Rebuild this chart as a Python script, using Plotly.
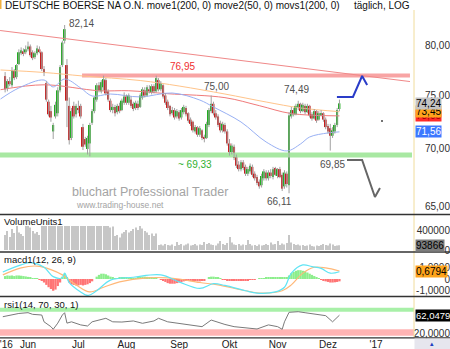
import math
import plotly.graph_objects as go

W, H = 450, 349
FONT = "Liberation Sans"

# ---------------- data (trading-day index, 0 = 1 Jun 2016) ----------------
day = list(range(-10, 137))

opens = [76.9, 75.7, 76.4, 76.0, 77.4, 76.8, 78.1, 79.2, 79.4, 79.3,
         79.6, 79.9, 79.3, 78.8, 79.2, 79.6, 79.3, 77.6, 76.2, 74.4,
         73.5, 71.6, 73.0, 73.3, 75.5, 78.0, 80.5, 78.0, 74.0, 71.0,
         74.0, 73.2, 73.8, 74.0, 72.0, 70.9, 70.0, 70.5, 72.4, 73.5,
         74.6, 76.0, 75.4, 75.8, 76.5, 75.4, 74.5, 73.6, 73.9, 73.4,
         74.0, 73.6, 74.3, 74.9, 74.3, 74.6, 74.2, 73.8, 74.2, 73.9,
         74.8, 75.5, 75.0, 75.6, 75.3, 75.9, 75.4, 76.5, 75.6, 76.0,
         75.0, 74.4, 74.0, 73.3, 73.6, 73.0, 73.4, 72.9, 73.4, 73.8,
         73.3, 72.7, 72.5, 71.6, 72.0, 71.3, 71.7, 71.1, 71.0, 72.2,
         73.5, 74.2, 73.3, 73.0, 72.4, 71.7, 72.2, 71.6, 70.5, 69.7,
         70.2, 69.3, 68.6, 68.2, 68.8, 68.4, 67.8, 68.0, 68.4, 67.8,
         67.5, 67.1, 66.8, 67.4, 67.9, 67.4, 67.9, 67.5, 68.3, 67.6,
         68.2, 67.7, 66.7, 67.8, 66.8, 73.0, 73.6, 73.2, 73.8, 74.2,
         73.5, 74.0, 73.4, 74.0, 73.2, 72.8, 73.5, 72.7, 73.2, 73.3,
         72.7, 72.1, 71.9, 71.2, 71.6, 72.2, 73.7]
highs = [77.3, 76.6, 76.8, 77.8, 77.6, 78.1, 79.6, 79.8, 79.7, 80.0,
         80.4, 80.1, 79.5, 79.4, 80.0, 79.9, 79.4, 77.9, 76.4, 74.6,
         74.0, 72.4, 74.4, 75.8, 78.0, 80.5, 82.14, 78.6, 74.8, 73.8,
         74.4, 74.2, 74.5, 74.2, 72.3, 71.1, 71.2, 72.4, 73.7, 74.9,
         76.2, 76.3, 76.5, 76.95, 76.7, 75.6, 74.7, 74.2, 74.1, 74.2,
         74.3, 74.7, 75.3, 75.1, 75.2, 74.9, 74.4, 74.5, 74.5, 75.2,
         75.8, 75.8, 76.0, 76.0, 76.1, 76.1, 76.95, 76.7, 76.4, 76.1,
         75.2, 74.6, 74.1, 73.9, 73.8, 73.7, 73.6, 73.8, 74.1, 74.0,
         73.4, 72.9, 72.6, 72.2, 72.1, 72.1, 71.8, 71.3, 72.5, 73.8,
         75.0, 74.4, 73.6, 73.2, 72.6, 72.5, 72.4, 71.8, 70.9, 70.5,
         70.4, 69.5, 68.9, 69.0, 69.0, 68.6, 68.4, 68.7, 68.6, 68.0,
         67.7, 67.3, 67.8, 68.2, 68.1, 68.1, 68.2, 68.4, 68.4, 68.3,
         68.4, 67.9, 68.1, 68.0, 73.4, 73.9, 73.8, 74.2, 74.49, 74.3,
         74.3, 74.2, 74.2, 74.1, 73.4, 73.7, 73.6, 73.5, 73.6, 73.4,
         72.9, 72.3, 72.3, 72.0, 72.4, 73.8, 74.6]
lows = [75.3, 75.4, 75.9, 75.8, 76.5, 76.6, 78.0, 79.0, 78.9, 79.1,
        79.4, 78.8, 78.5, 78.6, 79.0, 79.2, 77.4, 76.9, 74.4, 73.0,
        72.5, 70.9, 72.8, 73.0, 75.3, 77.8, 80.2, 72.0, 70.4, 70.8,
        72.8, 72.9, 73.3, 72.8, 69.9, 70.2, 69.5, 69.33, 72.2, 73.3,
        74.4, 75.3, 75.2, 75.5, 75.0, 74.4, 73.4, 73.3, 73.0, 73.2,
        73.3, 73.5, 74.1, 74.1, 74.1, 73.8, 73.5, 73.6, 73.6, 73.8,
        74.6, 74.8, 74.9, 75.2, 75.1, 75.2, 75.3, 75.4, 75.4, 74.7,
        74.1, 73.6, 73.0, 73.1, 72.7, 72.8, 72.6, 72.7, 73.2, 73.0,
        72.4, 72.1, 71.5, 71.4, 71.1, 71.1, 70.8, 70.6, 70.9, 72.0,
        73.3, 73.1, 72.7, 72.0, 71.5, 71.5, 71.4, 70.3, 69.4, 69.5,
        69.0, 68.3, 68.0, 68.0, 68.1, 67.6, 67.6, 67.8, 67.5, 67.2,
        66.8, 66.5, 66.6, 67.2, 67.2, 67.2, 67.4, 67.3, 67.6, 67.4,
        67.4, 66.3, 66.5, 66.6, 66.11, 72.8, 73.0, 73.1, 73.6, 73.3,
        73.4, 73.2, 73.3, 72.9, 72.6, 72.7, 72.4, 72.6, 73.0, 72.5,
        71.8, 71.4, 69.85, 71.0, 71.4, 72.0, 73.5]
closes = [75.6, 76.4, 76.1, 77.5, 76.7, 78.0, 79.3, 79.5, 79.2, 79.6,
          79.9, 79.0, 78.7, 79.2, 79.7, 79.4, 77.6, 77.3, 74.6, 73.2,
          72.9, 72.2, 74.1, 75.5, 77.8, 80.3, 81.7, 74.5, 70.8, 73.5,
          73.0, 74.0, 73.6, 73.0, 70.2, 70.4, 71.0, 72.2, 73.5, 74.8,
          76.0, 75.5, 76.3, 76.6, 75.2, 74.6, 73.6, 73.9, 73.3, 74.0,
          73.5, 74.5, 74.9, 74.3, 75.0, 74.0, 73.7, 74.3, 73.8, 75.0,
          75.6, 75.0, 75.8, 75.4, 75.9, 75.4, 76.7, 75.6, 76.2, 74.9,
          74.3, 73.8, 73.2, 73.6, 72.9, 73.5, 72.8, 73.6, 73.9, 73.2,
          72.6, 72.3, 71.7, 72.0, 71.3, 71.9, 71.0, 70.9, 72.3, 73.6,
          74.2, 73.3, 72.9, 72.2, 71.7, 72.3, 71.6, 70.5, 69.7, 70.3,
          69.2, 68.5, 68.2, 68.8, 68.3, 67.8, 68.2, 68.5, 67.7, 67.4,
          67.0, 66.7, 67.6, 68.0, 67.4, 67.9, 67.6, 68.2, 67.7, 68.2,
          67.5, 66.5, 67.9, 66.9, 73.1, 73.6, 73.2, 74.0, 74.2, 73.5,
          74.1, 73.4, 74.0, 73.1, 72.8, 73.5, 72.6, 73.3, 73.3, 72.7,
          72.0, 71.6, 71.2, 71.7, 72.2, 73.6, 74.24]

volume_k = [300, 380, 260, 420, 340, 520, 350, 320, 280, 500,
            520, 450, 380, 330, 360, 300, 520, 500, 540, 510,
            560, 600, 520, 540, 580, 620, 700, 900, 800, 650,
            560, 520, 500, 540, 600, 520, 500, 560, 500, 520,
            520, 500, 480, 520, 500, 500, 450, 470, 280, 300,
            250, 330, 360, 400, 350, 380, 420, 450, 400, 500,
            430, 380, 350, 300, 330, 280, 330, 100, 110, 90,
            120, 100, 90, 110, 80, 160, 100, 120, 90, 110,
            130, 90, 100, 120, 90, 110, 100, 160, 120, 140,
            110, 100, 90, 130, 180, 120, 100, 140, 260, 150,
            110, 100, 120, 90, 110, 100, 200, 120, 90, 100,
            80, 110, 90, 100, 120, 100, 150, 110, 120, 180,
            100, 130, 110, 140, 300, 150, 120, 100, 110, 90,
            100, 80, 90, 110, 80, 70, 90, 80, 100, 120,
            100, 90, 130, 110, 80, 90, 93.866]

macd_hist = [0.25, 0.3, 0.28, 0.3, 0.25, 0.3, 0.3, 0.28, 0.25, 0.22,
             0.18, 0.12, 0.08, 0.05, 0.02, -0.02, -0.15, -0.3, -0.5, -0.7,
             -0.85, -1.0, -0.9, -0.6, -0.3, 0.2, 0.45, 0.1, -0.3, -0.45,
             -0.5, -0.55, -0.55, -0.5, -0.55, -0.5, -0.45, -0.35, -0.2, 0.0,
             0.2, 0.35, 0.45, 0.45, 0.4, 0.3, 0.2, 0.1, 0.05, 0.05,
             0.1, 0.15, 0.15, 0.1, 0.05, 0.02, 0.05, 0.05, 0.1, 0.15,
             0.2, 0.2, 0.18, 0.15, 0.1, 0.05, 0.05, 0.0, -0.05, -0.15,
             -0.25, -0.35, -0.4, -0.4, -0.4, -0.35, -0.3, -0.25, -0.2, -0.15,
             -0.1, -0.1, -0.15, -0.15, -0.2, -0.2, -0.15, -0.1, 0.0, 0.1,
             0.2, 0.2, 0.15, 0.1, 0.05, -0.02, -0.05, -0.1, -0.15, -0.15,
             -0.15, -0.12, -0.12, -0.1, -0.1, -0.12, -0.1, -0.08, -0.05, -0.02,
             0.0, 0.02, 0.05, 0.08, 0.1, 0.1, 0.12, 0.12, 0.15, 0.15,
             0.15, 0.12, 0.15, 0.15, 0.3, 0.5, 0.6, 0.7, 0.75, 0.75,
             0.7, 0.65, 0.55, 0.45, 0.35, 0.25, 0.15, 0.05, -0.05, -0.12,
             -0.2, -0.25, -0.3, -0.3, -0.28, -0.25, -0.2]

# moving averages, read at sample days
move1_idx = [-12, 7, 31, 44, 61, 86, 101, 115, 136]
move1 = [75.56, 76.04, 75.46, 75.46, 75.17, 74.79, 74.02, 73.27, 73.05]
move2_idx = [-12, -4, 7, 11, 16, 23, 28, 36, 49, 63, 75, 81, 93, 104, 113, 119, 123, 131, 136]
move2 = [74.66, 75.73, 76.51, 75.83, 76.61, 75.73, 74.95, 75.14, 74.86, 75.24,
         74.56, 73.89, 72.48, 70.63, 69.82, 70.45, 71.09, 71.46, 71.56]
movs1_idx = [-12, 7, 24, 49, 66, 86, 104, 119, 136]
movs1 = [77.51, 77.26, 76.91, 76.46, 75.92, 75.14, 74.37, 73.80, 73.45]

macd_idx = [-11, -3, 1, 7, 11, 15, 16, 18, 23, 26, 30, 36, 46, 58, 66, 75, 81, 86,
            95, 100, 108, 112, 115, 120, 124, 128, 132, 136]
macd_line = [0.6, 1.2, 1.4, 1.0, 0.2, 0.1, 0.5, -0.3, -1.1, -1.4, -1.0, -0.1, 0.15, 0.35,
             -0.25, -0.8, -0.4, -0.55, -1.0, -1.2, -1.1, -0.7, 0.5, 1.2, 1.05, 0.9, 0.5, 0.62]
signal_idx = [-11, -3, 4, 10, 15, 21, 27, 33, 40, 52, 61, 66, 75, 83, 95, 102, 111, 115,
              120, 125, 130, 136]
signal_line = [0.35, 0.95, 1.1, 0.8, 0.35, -0.5, -1.1, -0.7, -0.25, 0.1, 0.1, 0.0, -0.3,
               -0.5, -1.0, -1.2, -1.0, -0.5, 0.5, 1.0, 0.95, 0.6794]

rsi_idx = [-11, -8, -4, 0, 2, 6, 7, 10, 11, 13, 15, 16, 17, 19, 23, 26, 28, 31, 34, 37,
           41, 46, 50, 55, 57, 61, 66, 71, 76, 80, 84, 86, 90, 95, 100, 105, 109, 111,
           112, 114, 118, 121, 125, 130, 133, 136]
rsi = [58.6, 62.5, 66, 67.8, 64, 62.5, 47, 36, 30, 44, 62.5, 67.7, 44, 47, 40, 37.5, 47,
       51, 55, 47, 46.5, 49, 43.6, 49, 55, 47, 43.6, 41, 36, 51, 43.6, 41, 36, 33.6, 30.7,
       40, 36, 30, 47, 68.6, 70, 67.7, 64, 61, 47, 62.0479]

# levels / drawings
resist_level = 76.95
support_level = 69.45
trend_idx = [-12.2, 166.8]
trend_val = [81.56, 76.36]
up_path_idx = [134.9, 141.9, 145.9, 148.1]
up_path_val = [74.86, 74.86, 76.91, 76.02]
down_path_idx = [139.3, 145.9, 151.5, 153.7]
down_path_val = [69.01, 69.01, 65.79, 66.56]

month_ticks = [-9.5, 0, 22, 43, 66, 88, 109, 131, 152]
month_text = ["'16", "Jun", "Jul", "Aug", "Sep", "Okt", "Nov", "Dez", "'17"]

# ---------------- geometry helpers ----------------
def px(x):
    return x / W

def py(y):
    return 1 - y / H

XR = [-12.23, 168.56]
GREEN, RED, WICK = "#22ac22", "#c81e1e", "#a0a0a0"

fig = go.Figure()

# support / resistance bands and trend line
fig.add_trace(go.Scatter(x=[-12.23, 167.7], y=[support_level] * 2, mode="lines",
                         line=dict(color="#a8e8a2", width=5), xaxis="x", yaxis="y"))
fig.add_trace(go.Scatter(x=[23.6, 166.8], y=[resist_level] * 2, mode="lines",
                         line=dict(color="#f8a4a4", width=4), xaxis="x", yaxis="y"))
fig.add_trace(go.Scatter(x=trend_idx, y=trend_val, mode="lines",
                         line=dict(color="#f08888", width=1), xaxis="x", yaxis="y"))

# moving averages
fig.add_trace(go.Scatter(x=move1_idx, y=move1, mode="lines", line_shape="spline",
                         line=dict(color="#f07a7a", width=1), xaxis="x", yaxis="y"))
fig.add_trace(go.Scatter(x=movs1_idx, y=movs1, mode="lines", line_shape="spline",
                         line=dict(color="#ffc48a", width=1), xaxis="x", yaxis="y"))
fig.add_trace(go.Scatter(x=move2_idx, y=move2, mode="lines", line_shape="spline",
                         line=dict(color="#98b0f4", width=1), xaxis="x", yaxis="y"))

# candles: wicks + bodies
wx, wy = [], []
for d, h, l in zip(day, highs, lows):
    wx += [d, d, None]
    wy += [l, h, None]
fig.add_trace(go.Scatter(x=wx, y=wy, mode="lines", line=dict(color=WICK, width=1),
                         xaxis="x", yaxis="y"))
base = [min(o, c) for o, c in zip(opens, closes)]
size = [max(abs(c - o), 0.06) for o, c in zip(opens, closes)]
cols = [GREEN if c >= o else RED for o, c in zip(opens, closes)]
fig.add_trace(go.Bar(x=day, y=size, base=base, width=0.85, marker=dict(color=cols, line_width=0),
                     xaxis="x", yaxis="y"))

# forecast arrows
fig.add_trace(go.Scatter(x=up_path_idx, y=up_path_val, mode="lines",
                         line=dict(color="#2a3cc8", width=2), xaxis="x", yaxis="y"))
fig.add_trace(go.Scatter(x=down_path_idx, y=down_path_val, mode="lines",
                         line=dict(color="#666666", width=2), xaxis="x", yaxis="y"))
fig.add_trace(go.Scatter(x=[154.6], y=[72.57], mode="markers",
                         marker=dict(color="#444", size=2), xaxis="x", yaxis="y"))

# volume
fig.add_trace(go.Bar(x=day, y=[v * 1000 for v in volume_k], width=0.45,
                     marker=dict(color="#c6c6c6", line_width=0), xaxis="x", yaxis="y2"))

# macd
fig.add_trace(go.Bar(x=day, y=macd_hist, width=1.0,
                     marker=dict(color=["#8cee8c" if v >= 0 else "#ff7474" for v in macd_hist],
                                 line_width=0), xaxis="x", yaxis="y3"))
fig.add_trace(go.Scatter(x=signal_idx, y=signal_line, mode="lines", line_shape="spline",
                         line=dict(color="#ffb878", width=1.2), xaxis="x", yaxis="y3"))
fig.add_trace(go.Scatter(x=macd_idx, y=macd_line, mode="lines", line_shape="spline",
                         line=dict(color="#60e4f4", width=1.2), xaxis="x", yaxis="y3"))

# rsi
fig.add_trace(go.Scatter(x=[XR[0], XR[1]], y=[74.5, 74.5], mode="lines",
                         line=dict(color="#a8f0a8", width=4), xaxis="x", yaxis="y4"))
fig.add_trace(go.Scatter(x=[XR[0], XR[1]], y=[22.7, 22.7], mode="lines",
                         line=dict(color="#ffb4b4", width=6.4), xaxis="x", yaxis="y4"))
fig.add_trace(go.Scatter(x=rsi_idx, y=rsi, mode="lines",
                         line=dict(color="#7a7a7a", width=1), xaxis="x", yaxis="y4"))

tickfont = dict(family=FONT, size=10, color="#303030")

def yax(dom_top, dom_bot, rng, tv, tt, typ="linear"):
    return dict(domain=[py(dom_bot), py(dom_top)], range=rng, type=typ, tickvals=tv, ticktext=tt,
                side="left", anchor="free", position=1.0, showgrid=False, zeroline=False,
                showline=False, ticks="", tickfont=tickfont, automargin=False, fixedrange=True)

layout = dict(
    width=W, height=H, margin=dict(l=0, r=0, t=0, b=0),
    paper_bgcolor="white", plot_bgcolor="white", showlegend=False, hovermode=False,
    barmode="overlay", font=dict(family=FONT, size=10, color="#202020"),
    xaxis=dict(domain=[0, 414 / W], range=XR, anchor="y4", tickvals=month_ticks,
               ticktext=month_text, showgrid=False, zeroline=False, showline=False,
               ticks="", tickfont=dict(family=FONT, size=10, color="#202020"),
               ticklabeloverflow="allow", automargin=False, fixedrange=True),
    yaxis=yax(10, 214, [math.log10(64.363), math.log10(83.746)], [65, 70, 75, 80],
              ["65,00", "70,00", "75,00", "80,00"], typ="log"),
    yaxis2=yax(226, 250, [0, 480000], [0, 400000], ["0", "400000"]),
    yaxis3=yax(253, 296, [-1.447, 2.213], [-1, 0, 1], ["-1,0000", "0", "1,0000"]),
    yaxis4=yax(297, 337, [12.5, 103.4], [20], ["20,0000"]),
)
fig.update_layout(**layout)

shapes = []
# right axis yellow line
shapes.append(dict(type="line", xref="paper", yref="paper", x0=px(414), x1=px(414),
                   y0=py(10), y1=py(337.5), line=dict(color="#f0dc9c", width=1)))
for yy in [214.5, 252, 296.5, 337.8]:
    shapes.append(dict(type="line", xref="paper", yref="paper", x0=0, x1=1, y0=py(yy), y1=py(yy),
                       line=dict(color="#333333", width=1.3)))
shapes.append(dict(type="rect", xref="paper", yref="paper", x0=px(414.5), x1=1, y0=0, y1=py(338.5),
                   fillcolor="#e6e6ee", line_width=0))
shapes.append(dict(type="rect", xref="paper", yref="paper", x0=0, x1=px(1.5), y0=py(9), y1=1,
                   fillcolor="#f0b040", line_width=0))
fig.update_layout(shapes=shapes)

ann = []
def text(t, x, y, size=10, color="#505050", xa="center", family=FONT, **kw):
    ann.append(dict(text=t, x=px(x), y=py(y), xref="paper", yref="paper", xanchor=xa,
                    yanchor="middle", showarrow=False,
                    font=dict(family=family, size=size, color=color), **kw))

text("DEUTSCHE BOERSE NA O.N. move1(200, 0) move2(50, 0) movs1(200, 0)", 2.5, 5.5,
     color="#101010", xa="left")
text("täglich, LOG", 412, 5.5, color="#101010", xa="right")
text("82,14", 81, 23.5)
text("76,95", 182, 66.5, color="#f03030")
text("75,00", 216, 86.5)
text("74,49", 296, 90)
text("~ 69,33", 195, 165, color="#30b030")
text("69,85", 332, 165)
text("66,11", 279, 201.5)
text("bluchart Professional Trader", 150, 192, size=12.5, color="#a4a4a4")
text("www.trading-house.net", 119.5, 204.5, size=8.5, color="#a4a4a4")
text("VolumeUnits1", 2, 221.5, size=9.5, color="#101010", xa="left")
text("macd1(12, 26, 9)", 2, 259, size=9.5, color="#101010", xa="left")
text("rsi1(14, 70, 30, 1)", 2, 304, size=9.5, color="#101010", xa="left")
text("▴", 432, 343.5, size=7, color="#2040c0")

def box(t, yval, yref, bg, fc="#000000", size=10):
    ann.append(dict(text=t, x=px(414.5), y=yval, xref="paper", yref=yref, xanchor="left",
                    yanchor="middle", showarrow=False, bgcolor=bg, borderpad=0,
                    font=dict(family=FONT, size=size, color=fc)))

box("73,05", math.log10(move1[-1]), "y", "#ff2a2a", "#a00000")
box("73,45", math.log10(movs1[-1]), "y", "#ffa41c")
box("74,24", math.log10(closes[-1]), "y", "#c4c4c4")
box("71,56", math.log10(move2[-1]), "y", "#3c78ff", "#ffffff")
box("93866", volume_k[-1] * 1000, "y2", "#7c7c7c")
box("0,6794", signal_line[-1], "y3", "#ffa41c")
box("62,0479", rsi[-1], "y4", "#000000", "#ffffff", size=9.5)

fig.update_layout(annotations=ann)
fig.write_html("out.html")
